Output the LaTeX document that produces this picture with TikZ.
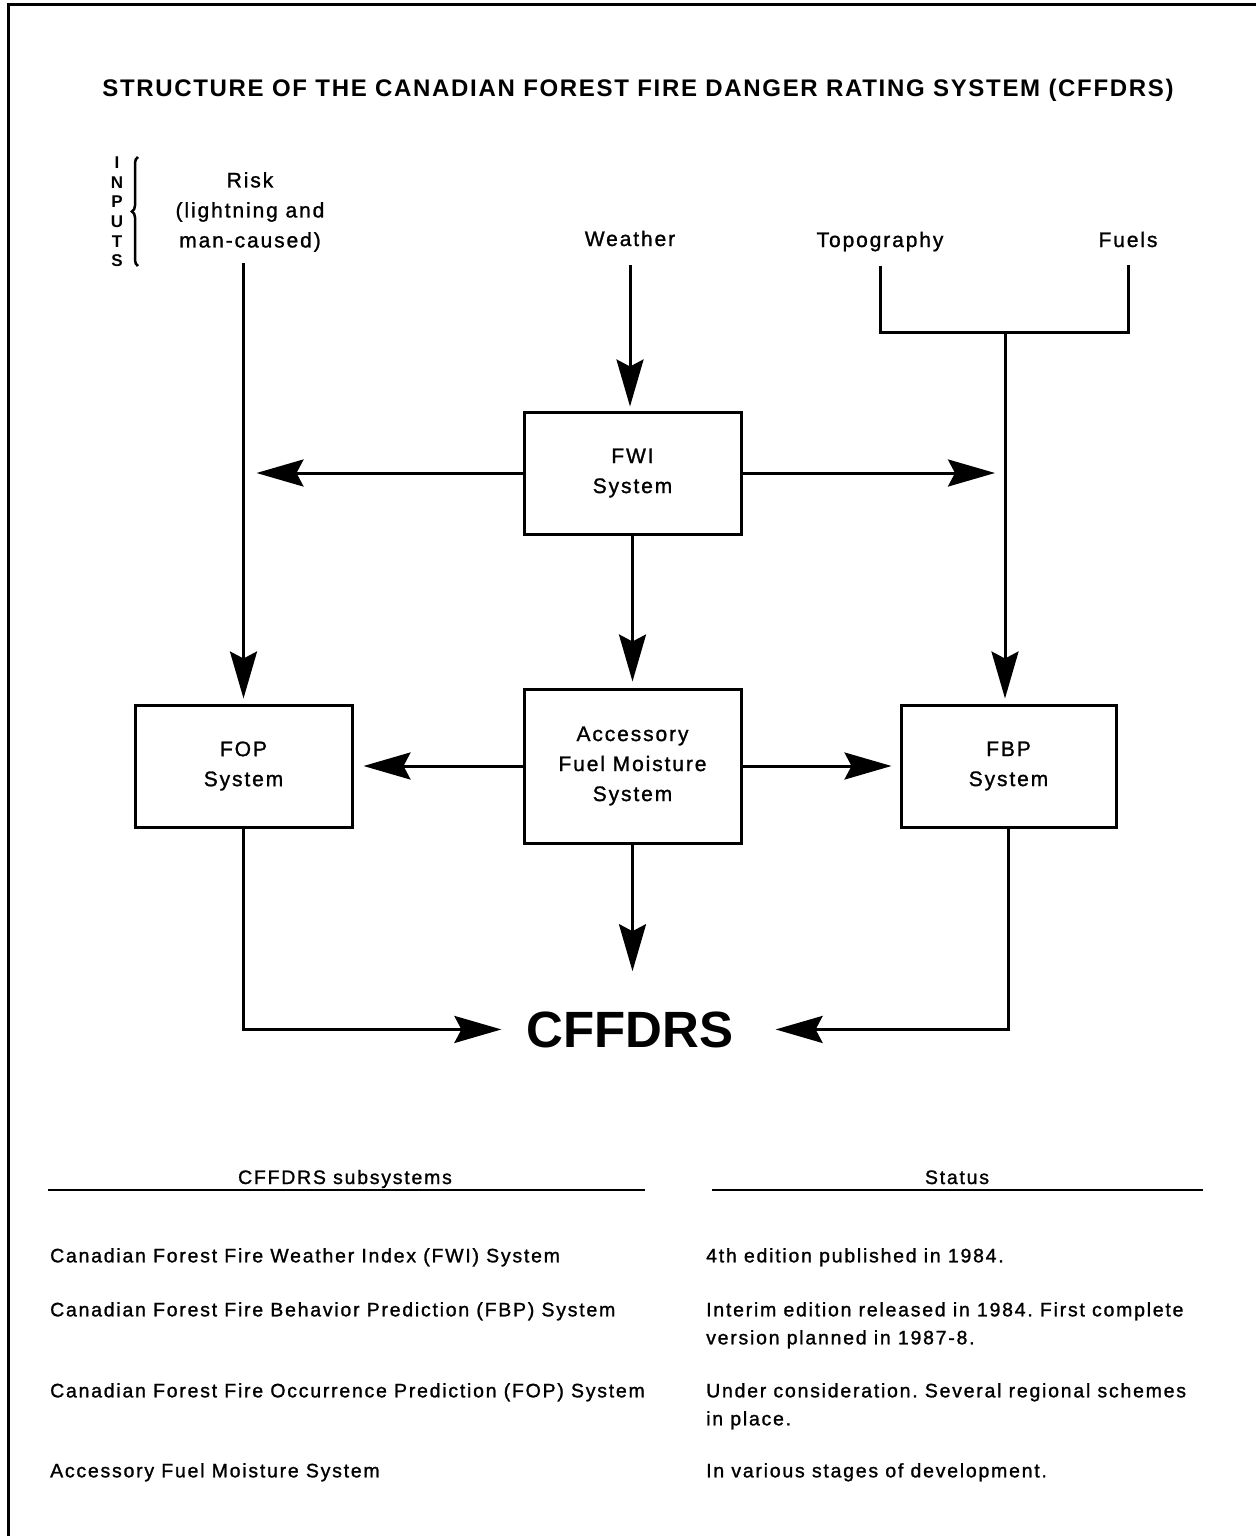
\documentclass[tikz,border=0pt]{standalone}
\usepackage{fontspec}
\setmainfont{Liberation Sans}[LetterSpace=9, FakeBold=1.2]
\newfontfamily\titlefont{Liberation Sans}[LetterSpace=7]
\newfontfamily\bigfont{Liberation Sans}
\usetikzlibrary{arrows.meta,positioning,calc,decorations.pathreplacing}
\frenchspacing

\begin{document}
\begin{tikzpicture}[x=1pt, y=-1pt, auto]
    \tikzstyle{block} = [rectangle, draw, line width=3pt, minimum width=217pt, minimum height=122pt, align=center, font=\fontsize{21}{30}\selectfont]
    \tikzstyle{inlabel} = [anchor=base, inner sep=0pt, font=\fontsize{21}{30}\selectfont]
    \tikzstyle{row} = [anchor=north west, inner sep=0pt, align=left, font=\fontsize{19.5}{28}\selectfont]
    \tikzstyle{wire} = [line width=3pt]
    \tikzstyle{arrow} = [line width=3pt, -{Stealth[length=47pt, width=27pt, inset=7pt]}]

    \useasboundingbox (0,0) rectangle (1256,1536);
    % page frame (top and left edge)
    \draw[wire] (1256,5) -- (8,5) -- (8,1536);

    % Title
    \node[anchor=base, inner sep=0pt, font=\titlefont\bfseries\fontsize{24}{28}\selectfont] (title) at (638,97)
        {STRUCTURE OF THE CANADIAN FOREST FIRE DANGER RATING SYSTEM (CFFDRS)};

    % Inputs
    \node[align=center, inner sep=0pt, font=\titlefont\bfseries\fontsize{17}{19.6}\selectfont] (inputs) at (117,212) {I\\N\\P\\U\\T\\S};
    \draw[line width=2.5pt, decorate, decoration={brace, amplitude=6pt}] (138,266) -- (138,157);
    \node[anchor=north, inner sep=0pt, align=center, font=\fontsize{21}{30}\selectfont] (risk) at (250,172)
        {Risk\\(lightning and\\man-caused)};
    \node[inlabel] (weather) at (630,246) {Weather};
    \node[inlabel] (topo) at (880,247) {Topography};
    \node[inlabel] (fuels) at (1128,247) {Fuels};

    % Systems
    \node[block] (fwi) at (632.5,473) {FWI\\System};
    \node[block, minimum height=154pt, below=152pt of fwi] (acc) {Accessory\\Fuel Moisture\\System};
    \node[block, left=169pt of acc] (fop) {FOP\\System};
    \node[block, minimum width=215pt, right=157pt of acc] (fbp) {FBP\\System};

    % Result
    \node[anchor=base, inner sep=0pt, font=\bigfont\bfseries\fontsize{51}{60}\selectfont] (cffdrs) at (630,1047) {CFFDRS};

    % Arrows
    \coordinate (tf) at (1005,332);
    \draw[arrow, shorten <=19pt, shorten >=4pt] (weather.south) -- (weather.south |- fwi.north);
    \draw[arrow, shorten <=11pt, shorten >=5pt] (fop.north |- risk.south) -- (fop.north);
    \draw[wire, shorten <=14pt, shorten >=18pt] (topo.south) |- (tf) -| (fuels.south);
    \draw[arrow, shorten >=5pt] (tf) -- (tf |- fbp.north);
    \draw[arrow, shorten >=13pt] (fwi.west) -- (fwi.west -| fop.north);
    \draw[arrow, shorten >=10pt] (fwi.east) -- (fwi.east -| tf);
    \draw[arrow, shorten >=6pt] (fwi.south) -- (acc.north);
    \draw[arrow, shorten >=10pt] (acc.west) -- (fop.east);
    \draw[arrow, shorten >=8pt] (acc.east) -- (fbp.west);
    \draw[arrow, shorten >=40pt] (acc.south) -- (acc.south |- cffdrs.north);
    \draw[arrow, shorten >=25pt] (fop.south) |- (cffdrs.west);
    \draw[arrow, shorten >=42pt] (fbp.south) |- (cffdrs.east);

    % Table of subsystems
    \node[inlabel, font=\fontsize{19.5}{28}\selectfont] (subhead) at (345,1184) {CFFDRS subsystems};
    \node[inlabel, font=\fontsize{19.5}{28}\selectfont] (stathead) at (957,1184) {Status};
    \draw[line width=1.5pt] (48,1190) -- (645,1190);
    \draw[line width=1.5pt] (712,1190) -- (1203,1190);

    \node[row] (r1) at (50,1248) {Canadian Forest Fire Weather Index (FWI) System};
    \node[row] (s1) at (706,1248) {4th edition published in 1984.};
    \node[row] (r2) at (50,1302) {Canadian Forest Fire Behavior Prediction (FBP) System};
    \node[row] (s2) at (706,1302) {Interim edition released in 1984. First complete\\version planned in 1987-8.};
    \node[row] (r3) at (50,1383) {Canadian Forest Fire Occurrence Prediction (FOP) System};
    \node[row] (s3) at (706,1383) {Under consideration. Several regional schemes\\in place.};
    \node[row] (r4) at (50,1463) {Accessory Fuel Moisture System};
    \node[row] (s4) at (706,1463) {In various stages of development.};
\end{tikzpicture}
\end{document}
